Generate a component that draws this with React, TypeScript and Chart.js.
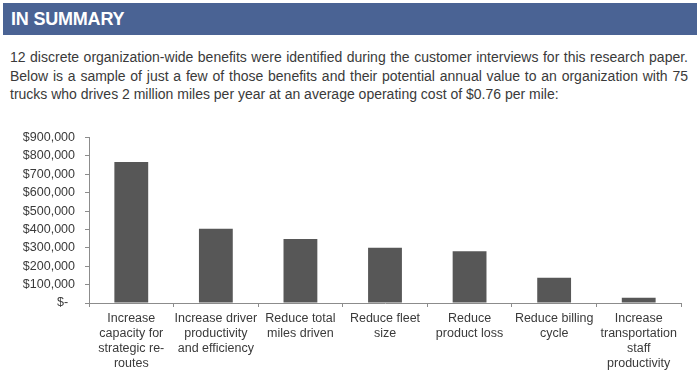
import React, { useEffect, useRef } from "react";
import { Chart, registerables } from "chart.js";

Chart.register(...registerables);

const categories: string[][] = [
  ["Increase", "capacity for", "strategic re-", "routes"],
  ["Increase driver", "productivity", "and efficiency"],
  ["Reduce total", "miles driven"],
  ["Reduce fleet", "size"],
  ["Reduce", "product loss"],
  ["Reduce billing", "cycle"],
  ["Increase", "transportation", "staff", "productivity"],
];
const annualValue: number[] = [767000, 404000, 348000, 300000, 281000, 137000, 28000];
const yMax = 900000;
const yStep = 100000;

const title = "IN SUMMARY";
const paragraphLines: string[] = [
  "12 discrete organization-wide benefits were identified during the customer interviews for this research paper.",
  "Below is a sample of just a few of those benefits and their potential annual value to an organization with 75",
  "trucks who drives 2 million miles per year at an average operating cost of $0.76 per mile:",
];

const FONT = "'Liberation Sans', Arial, Helvetica, sans-serif";

export default function App() {
  const ref = useRef<HTMLCanvasElement | null>(null);

  useEffect(() => {
    if (!ref.current) return;
    const chart = new Chart(ref.current, {
      type: "bar",
      data: {
        labels: categories,
        datasets: [
          {
            data: annualValue,
            backgroundColor: "#575757",
            borderWidth: 0,
            barPercentage: 0.4,
            categoryPercentage: 1,
          },
        ],
      },
      options: {
        responsive: false,
        animation: false,
        devicePixelRatio: 1,
        layout: { padding: { top: 12, right: 19, left: 0, bottom: 0 } },
        plugins: { legend: { display: false }, tooltip: { enabled: false } },
        scales: {
          x: {
            offset: true,
            grid: {
              offset: true,
              drawOnChartArea: false,
              drawTicks: true,
              tickLength: 4,
              color: "#8c8c8c",
            },
            border: { color: "#8c8c8c", width: 1 },
            ticks: {
              maxRotation: 0,
              minRotation: 0,
              autoSkip: false,
              padding: 4,
              color: "#3a3a3a",
              font: { family: FONT, size: 12.5, lineHeight: 1.2 },
            },
            afterFit: (scale: any) => {
              scale.height = 71;
            },
          },
          y: {
            min: 0,
            max: yMax,
            grid: {
              drawOnChartArea: false,
              drawTicks: true,
              tickLength: 4,
              color: "#8c8c8c",
            },
            border: { color: "#8c8c8c", width: 1 },
            ticks: {
              stepSize: yStep,
              padding: 10,
              color: "#3a3a3a",
              font: { family: FONT, size: 12.5 },
              callback: (v: any) =>
                Number(v) === 0 ? "$-  " : "$" + Number(v).toLocaleString("en-US"),
            },
            afterFit: (scale: any) => {
              scale.width = 89;
            },
          },
        },
      },
    });
    return () => chart.destroy();
  }, []);

  return (
    <div
      style={{
        position: "absolute",
        left: 0,
        top: 0,
        width: 700,
        height: 374,
        background: "#ffffff",
        fontFamily: FONT,
        overflow: "hidden",
      }}
    >
      <div
        style={{
          position: "absolute",
          left: 3,
          top: 3,
          width: 694,
          height: 32,
          background: "#4a6394",
          color: "#ffffff",
          fontWeight: "bold",
          fontSize: 18,
          lineHeight: "32px",
          paddingLeft: 8,
          boxSizing: "border-box",
          letterSpacing: "-0.2px",
        }}
      >
        {title}
      </div>
      <div
        style={{
          position: "absolute",
          left: 10,
          top: 48,
          width: 678,
          fontSize: 14,
          lineHeight: "18.5px",
          color: "#3a3a3a",
        }}
      >
        {paragraphLines.map((line, i) => (
          <div
            key={i}
            style={{
              whiteSpace: "nowrap",
              textAlign: "justify",
              textAlignLast: i < paragraphLines.length - 1 ? "justify" : "left",
            }}
          >
            {line}
          </div>
        ))}
      </div>
      <canvas
        ref={ref}
        width={700}
        height={254}
        style={{ position: "absolute", left: 0, top: 120, width: 700, height: 254 }}
      />
    </div>
  );
}
